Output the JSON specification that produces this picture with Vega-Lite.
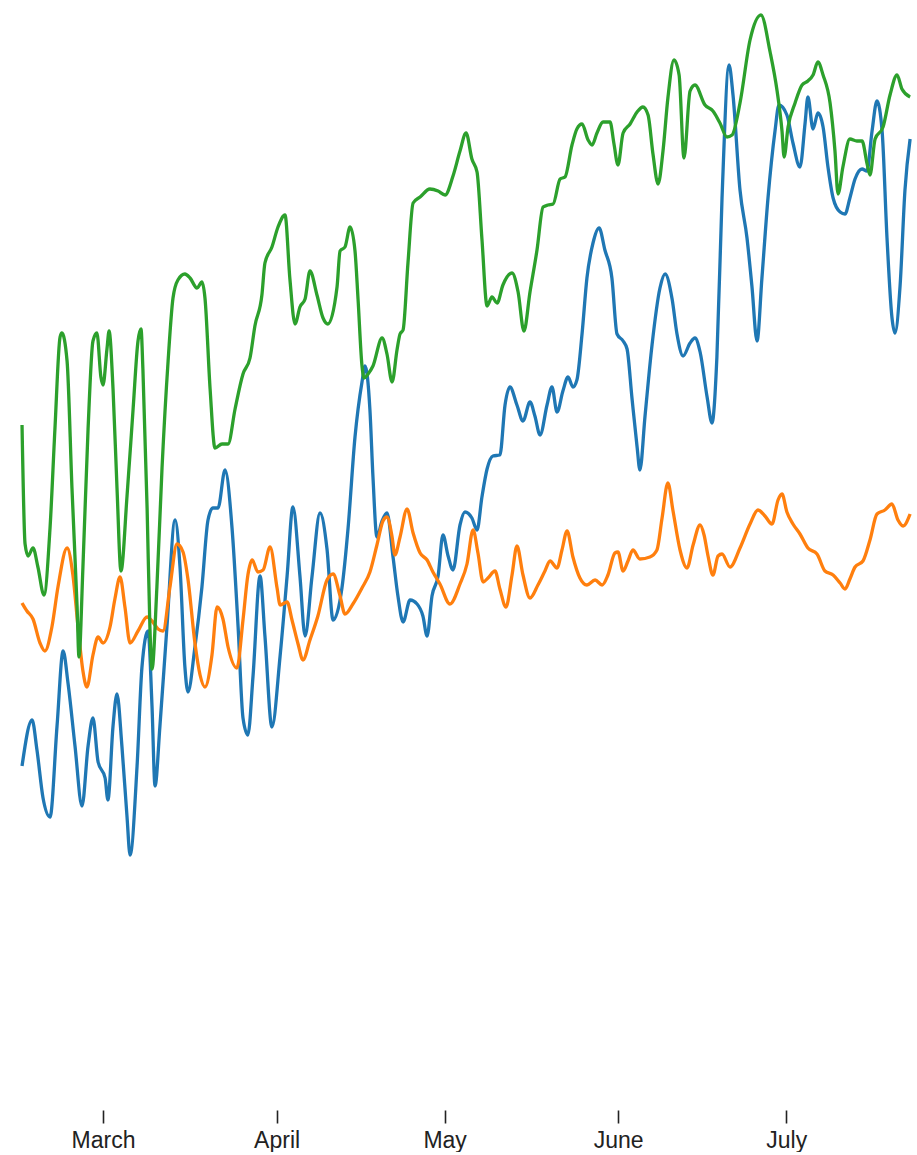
{
"$schema": "https://vega.github.io/schema/vega-lite/v6.json",
"width": 917,
"height": 1110,
"padding": 0,
"background": "white",
"config": {"view": {"stroke": null}},
"data": {"values": [
{"c":"New York","d":"2012-02-15T13:00","v":34.4},
{"c":"New York","d":"2012-02-17T08:00","v":39.0},
{"c":"New York","d":"2012-02-18T05:00","v":36.0},
{"c":"New York","d":"2012-02-19T07:00","v":31.2},
{"c":"New York","d":"2012-02-20T13:00","v":29.3},
{"c":"New York","d":"2012-02-21T19:00","v":38.4},
{"c":"New York","d":"2012-02-22T21:00","v":45.9},
{"c":"New York","d":"2012-02-23T18:00","v":42.7},
{"c":"New York","d":"2012-02-25T00:00","v":36.4},
{"c":"New York","d":"2012-02-26T06:00","v":30.4},
{"c":"New York","d":"2012-02-27T08:00","v":36.4},
{"c":"New York","d":"2012-02-28T05:00","v":39.2},
{"c":"New York","d":"2012-02-29T03:00","v":34.8},
{"c":"New York","d":"2012-03-01T09:00","v":33.2},
{"c":"New York","d":"2012-03-01T21:00","v":31.0},
{"c":"New York","d":"2012-03-02T19:00","v":38.4},
{"c":"New York","d":"2012-03-03T12:00","v":41.6},
{"c":"New York","d":"2012-03-04T09:00","v":36.4},
{"c":"New York","d":"2012-03-05T07:00","v":29.3},
{"c":"New York","d":"2012-03-05T20:00","v":25.5},
{"c":"New York","d":"2012-03-07T02:00","v":34.4},
{"c":"New York","d":"2012-03-07T23:00","v":44.3},
{"c":"New York","d":"2012-03-09T01:00","v":47.9},
{"c":"New York","d":"2012-03-09T18:00","v":40.4},
{"c":"New York","d":"2012-03-10T07:00","v":32.4},
{"c":"New York","d":"2012-03-11T04:00","v":38.4},
{"c":"New York","d":"2012-03-12T10:00","v":48.3},
{"c":"New York","d":"2012-03-13T21:00","v":59.0},
{"c":"New York","d":"2012-03-14T18:00","v":54.3},
{"c":"New York","d":"2012-03-15T15:00","v":44.3},
{"c":"New York","d":"2012-03-16T04:00","v":41.8},
{"c":"New York","d":"2012-03-17T10:00","v":46.3},
{"c":"New York","d":"2012-03-18T16:00","v":52.3},
{"c":"New York","d":"2012-03-19T18:00","v":59.0},
{"c":"New York","d":"2012-03-20T15:00","v":60.2},
{"c":"New York","d":"2012-03-21T13:00","v":60.2},
{"c":"New York","d":"2012-03-22T19:00","v":64.0},
{"c":"New York","d":"2012-03-24T01:00","v":58.2},
{"c":"New York","d":"2012-03-25T03:00","v":48.3},
{"c":"New York","d":"2012-03-26T00:00","v":39.2},
{"c":"New York","d":"2012-03-26T21:00","v":37.5},
{"c":"New York","d":"2012-03-27T19:00","v":43.4},
{"c":"New York","d":"2012-03-29T01:00","v":53.4},
{"c":"New York","d":"2012-03-29T22:00","v":47.4},
{"c":"New York","d":"2012-03-31T04:00","v":38.3},
{"c":"New York","d":"2012-04-01T15:00","v":45.4},
{"c":"New York","d":"2012-04-02T21:00","v":53.4},
{"c":"New York","d":"2012-04-03T22:00","v":60.3},
{"c":"New York","d":"2012-04-05T04:00","v":53.4},
{"c":"New York","d":"2012-04-06T02:00","v":47.4},
{"c":"New York","d":"2012-04-07T08:00","v":53.4},
{"c":"New York","d":"2012-04-08T18:00","v":59.7},
{"c":"New York","d":"2012-04-10T00:00","v":56.1},
{"c":"New York","d":"2012-04-11T02:00","v":49.0},
{"c":"New York","d":"2012-04-12T16:00","v":52.2},
{"c":"New York","d":"2012-04-13T18:00","v":58.1},
{"c":"New York","d":"2012-04-15T00:00","v":67.3},
{"c":"New York","d":"2012-04-16T06:00","v":72.8},
{"c":"New York","d":"2012-04-16T19:00","v":74.4},
{"c":"New York","d":"2012-04-17T16:00","v":70.0},
{"c":"New York","d":"2012-04-18T05:00","v":63.3},
{"c":"New York","d":"2012-04-18T22:00","v":57.3},
{"c":"New York","d":"2012-04-19T20:00","v":58.9},
{"c":"New York","d":"2012-04-20T17:00","v":59.7},
{"c":"New York","d":"2012-04-21T19:00","v":55.3},
{"c":"New York","d":"2012-04-22T16:00","v":51.4},
{"c":"New York","d":"2012-04-23T14:00","v":48.8},
{"c":"New York","d":"2012-04-24T20:00","v":51.0},
{"c":"New York","d":"2012-04-26T02:00","v":50.6},
{"c":"New York","d":"2012-04-27T03:00","v":49.4},
{"c":"New York","d":"2012-04-27T21:00","v":47.4},
{"c":"New York","d":"2012-04-28T18:00","v":51.4},
{"c":"New York","d":"2012-04-29T20:00","v":53.4},
{"c":"New York","d":"2012-04-30T17:00","v":57.5},
{"c":"New York","d":"2012-05-01T15:00","v":55.4},
{"c":"New York","d":"2012-05-02T12:00","v":54.0},
{"c":"New York","d":"2012-05-03T18:00","v":58.5},
{"c":"New York","d":"2012-05-04T15:00","v":59.8},
{"c":"New York","d":"2012-05-05T21:00","v":59.2},
{"c":"New York","d":"2012-05-06T19:00","v":58.0},
{"c":"New York","d":"2012-05-07T16:00","v":61.3},
{"c":"New York","d":"2012-05-08T14:00","v":64.1},
{"c":"New York","d":"2012-05-09T15:00","v":65.4},
{"c":"New York","d":"2012-05-10T21:00","v":65.5},
{"c":"New York","d":"2012-05-11T19:00","v":70.5},
{"c":"New York","d":"2012-05-12T16:00","v":72.3},
{"c":"New York","d":"2012-05-13T22:00","v":70.5},
{"c":"New York","d":"2012-05-15T00:00","v":68.9},
{"c":"New York","d":"2012-05-16T06:00","v":70.8},
{"c":"New York","d":"2012-05-17T03:00","v":69.4},
{"c":"New York","d":"2012-05-18T01:00","v":67.5},
{"c":"New York","d":"2012-05-19T07:00","v":70.5},
{"c":"New York","d":"2012-05-20T04:00","v":72.3},
{"c":"New York","d":"2012-05-21T02:00","v":69.8},
{"c":"New York","d":"2012-05-22T03:00","v":71.9},
{"c":"New York","d":"2012-05-23T01:00","v":73.3},
{"c":"New York","d":"2012-05-23T22:00","v":72.3},
{"c":"New York","d":"2012-05-24T15:00","v":73.0},
{"c":"New York","d":"2012-05-25T13:00","v":77.6},
{"c":"New York","d":"2012-05-26T10:00","v":83.2},
{"c":"New York","d":"2012-05-27T12:00","v":86.7},
{"c":"New York","d":"2012-05-28T14:00","v":88.2},
{"c":"New York","d":"2012-05-29T15:00","v":86.0},
{"c":"New York","d":"2012-05-30T21:00","v":83.2},
{"c":"New York","d":"2012-05-31T19:00","v":77.6},
{"c":"New York","d":"2012-06-01T21:00","v":76.9},
{"c":"New York","d":"2012-06-02T14:00","v":76.1},
{"c":"New York","d":"2012-06-03T11:00","v":71.2},
{"c":"New York","d":"2012-06-04T09:00","v":66.3},
{"c":"New York","d":"2012-06-04T21:00","v":64.0},
{"c":"New York","d":"2012-06-05T19:00","v":69.4},
{"c":"New York","d":"2012-06-07T01:00","v":76.5},
{"c":"New York","d":"2012-06-08T11:00","v":82.2},
{"c":"New York","d":"2012-06-09T09:00","v":83.6},
{"c":"New York","d":"2012-06-10T15:00","v":81.1},
{"c":"New York","d":"2012-06-11T12:00","v":77.6},
{"c":"New York","d":"2012-06-12T14:00","v":75.4},
{"c":"New York","d":"2012-06-13T20:00","v":76.7},
{"c":"New York","d":"2012-06-14T17:00","v":77.2},
{"c":"New York","d":"2012-06-15T15:00","v":75.8},
{"c":"New York","d":"2012-06-16T21:00","v":71.3},
{"c":"New York","d":"2012-06-17T18:00","v":68.7},
{"c":"New York","d":"2012-06-18T15:00","v":75.3},
{"c":"New York","d":"2012-06-19T13:00","v":91.2},
{"c":"New York","d":"2012-06-20T19:00","v":104.5},
{"c":"New York","d":"2012-06-21T12:00","v":101.5},
{"c":"New York","d":"2012-06-22T18:00","v":92.0},
{"c":"New York","d":"2012-06-24T00:00","v":87.2},
{"c":"New York","d":"2012-06-24T21:00","v":82.4},
{"c":"New York","d":"2012-06-25T19:00","v":76.9},
{"c":"New York","d":"2012-06-26T16:00","v":83.2},
{"c":"New York","d":"2012-06-27T18:00","v":91.2},
{"c":"New York","d":"2012-06-29T00:00","v":97.9},
{"c":"New York","d":"2012-06-29T17:00","v":100.5},
{"c":"New York","d":"2012-07-01T03:00","v":99.5},
{"c":"New York","d":"2012-07-02T05:00","v":96.7},
{"c":"New York","d":"2012-07-03T11:00","v":94.3},
{"c":"New York","d":"2012-07-04T09:00","v":98.7},
{"c":"New York","d":"2012-07-04T21:00","v":101.3},
{"c":"New York","d":"2012-07-05T19:00","v":98.1},
{"c":"New York","d":"2012-07-06T16:00","v":99.7},
{"c":"New York","d":"2012-07-07T14:00","v":98.3},
{"c":"New York","d":"2012-07-08T11:00","v":94.3},
{"c":"New York","d":"2012-07-09T09:00","v":91.2},
{"c":"New York","d":"2012-07-10T15:00","v":89.8},
{"c":"New York","d":"2012-07-11T12:00","v":89.6},
{"c":"New York","d":"2012-07-12T09:00","v":91.2},
{"c":"New York","d":"2012-07-13T07:00","v":93.1},
{"c":"New York","d":"2012-07-14T13:00","v":94.1},
{"c":"New York","d":"2012-07-15T10:00","v":93.9},
{"c":"New York","d":"2012-07-16T08:00","v":97.9},
{"c":"New York","d":"2012-07-17T05:00","v":100.9},
{"c":"New York","d":"2012-07-18T03:00","v":97.9},
{"c":"New York","d":"2012-07-19T00:00","v":87.2},
{"c":"New York","d":"2012-07-19T21:00","v":79.3},
{"c":"New York","d":"2012-07-20T10:00","v":77.7},
{"c":"New York","d":"2012-07-21T08:00","v":82.4},
{"c":"New York","d":"2012-07-22T05:00","v":92.0},
{"c":"New York","d":"2012-07-23T03:00","v":97.1},
{"c":"San Francisco","d":"2012-02-15T13:00","v":50.7},
{"c":"San Francisco","d":"2012-02-16T10:00","v":49.9},
{"c":"San Francisco","d":"2012-02-17T12:00","v":49.1},
{"c":"San Francisco","d":"2012-02-18T18:00","v":46.7},
{"c":"San Francisco","d":"2012-02-19T15:00","v":45.9},
{"c":"San Francisco","d":"2012-02-20T21:00","v":48.3},
{"c":"San Francisco","d":"2012-02-21T23:00","v":52.3},
{"c":"San Francisco","d":"2012-02-23T14:00","v":56.2},
{"c":"San Francisco","d":"2012-02-24T15:00","v":53.5},
{"c":"San Francisco","d":"2012-02-25T13:00","v":48.3},
{"c":"San Francisco","d":"2012-02-26T10:00","v":43.9},
{"c":"San Francisco","d":"2012-02-27T03:00","v":42.3},
{"c":"San Francisco","d":"2012-02-28T05:00","v":45.5},
{"c":"San Francisco","d":"2012-02-29T03:00","v":47.3},
{"c":"San Francisco","d":"2012-03-01T00:00","v":46.7},
{"c":"San Francisco","d":"2012-03-02T06:00","v":48.3},
{"c":"San Francisco","d":"2012-03-03T03:00","v":51.1},
{"c":"San Francisco","d":"2012-03-04T01:00","v":53.3},
{"c":"San Francisco","d":"2012-03-04T22:00","v":50.3},
{"c":"San Francisco","d":"2012-03-05T20:00","v":46.7},
{"c":"San Francisco","d":"2012-03-07T06:00","v":47.9},
{"c":"San Francisco","d":"2012-03-08T21:00","v":49.3},
{"c":"San Francisco","d":"2012-03-09T18:00","v":48.9},
{"c":"San Francisco","d":"2012-03-10T20:00","v":48.1},
{"c":"San Francisco","d":"2012-03-11T17:00","v":47.9},
{"c":"San Francisco","d":"2012-03-12T23:00","v":52.3},
{"c":"San Francisco","d":"2012-03-14T05:00","v":56.6},
{"c":"San Francisco","d":"2012-03-15T07:00","v":55.8},
{"c":"San Francisco","d":"2012-03-16T04:00","v":53.1},
{"c":"San Francisco","d":"2012-03-17T10:00","v":46.7},
{"c":"San Francisco","d":"2012-03-18T08:00","v":43.5},
{"c":"San Francisco","d":"2012-03-19T05:00","v":42.3},
{"c":"San Francisco","d":"2012-03-20T11:00","v":45.5},
{"c":"San Francisco","d":"2012-03-21T09:00","v":50.3},
{"c":"San Francisco","d":"2012-03-22T10:00","v":49.1},
{"c":"San Francisco","d":"2012-03-23T08:00","v":46.3},
{"c":"San Francisco","d":"2012-03-24T22:00","v":44.2},
{"c":"San Francisco","d":"2012-03-26T00:00","v":49.0},
{"c":"San Francisco","d":"2012-03-26T21:00","v":53.5},
{"c":"San Francisco","d":"2012-03-27T15:00","v":55.0},
{"c":"San Francisco","d":"2012-03-28T16:00","v":53.8},
{"c":"San Francisco","d":"2012-03-29T14:00","v":54.0},
{"c":"San Francisco","d":"2012-03-30T20:00","v":56.3},
{"c":"San Francisco","d":"2012-04-01T02:00","v":52.2},
{"c":"San Francisco","d":"2012-04-01T15:00","v":50.5},
{"c":"San Francisco","d":"2012-04-02T21:00","v":50.8},
{"c":"San Francisco","d":"2012-04-03T18:00","v":49.0},
{"c":"San Francisco","d":"2012-04-04T20:00","v":46.6},
{"c":"San Francisco","d":"2012-04-05T17:00","v":45.0},
{"c":"San Francisco","d":"2012-04-06T23:00","v":47.0},
{"c":"San Francisco","d":"2012-04-08T09:00","v":49.4},
{"c":"San Francisco","d":"2012-04-10T00:00","v":53.0},
{"c":"San Francisco","d":"2012-04-11T02:00","v":53.6},
{"c":"San Francisco","d":"2012-04-12T08:00","v":51.4},
{"c":"San Francisco","d":"2012-04-13T05:00","v":49.6},
{"c":"San Francisco","d":"2012-04-14T15:00","v":50.6},
{"c":"San Francisco","d":"2012-04-16T06:00","v":52.2},
{"c":"San Francisco","d":"2012-04-17T16:00","v":53.8},
{"c":"San Francisco","d":"2012-04-18T22:00","v":56.5},
{"c":"San Francisco","d":"2012-04-20T00:00","v":58.9},
{"c":"San Francisco","d":"2012-04-20T17:00","v":59.3},
{"c":"San Francisco","d":"2012-04-21T15:00","v":57.3},
{"c":"San Francisco","d":"2012-04-22T03:00","v":55.5},
{"c":"San Francisco","d":"2012-04-23T01:00","v":57.3},
{"c":"San Francisco","d":"2012-04-24T07:00","v":60.1},
{"c":"San Francisco","d":"2012-04-25T09:00","v":57.7},
{"c":"San Francisco","d":"2012-04-26T15:00","v":55.7},
{"c":"San Francisco","d":"2012-04-27T21:00","v":55.0},
{"c":"San Francisco","d":"2012-04-28T22:00","v":53.8},
{"c":"San Francisco","d":"2012-04-30T04:00","v":52.6},
{"c":"San Francisco","d":"2012-05-01T23:00","v":50.6},
{"c":"San Francisco","d":"2012-05-03T18:00","v":52.6},
{"c":"San Francisco","d":"2012-05-05T00:00","v":54.6},
{"c":"San Francisco","d":"2012-05-06T02:00","v":58.0},
{"c":"San Francisco","d":"2012-05-06T23:00","v":55.7},
{"c":"San Francisco","d":"2012-05-07T21:00","v":52.8},
{"c":"San Francisco","d":"2012-05-08T18:00","v":53.2},
{"c":"San Francisco","d":"2012-05-10T00:00","v":53.9},
{"c":"San Francisco","d":"2012-05-10T21:00","v":52.1},
{"c":"San Francisco","d":"2012-05-11T23:00","v":50.3},
{"c":"San Francisco","d":"2012-05-13T01:00","v":53.5},
{"c":"San Francisco","d":"2012-05-13T22:00","v":56.4},
{"c":"San Francisco","d":"2012-05-15T00:00","v":53.5},
{"c":"San Francisco","d":"2012-05-16T06:00","v":51.2},
{"c":"San Francisco","d":"2012-05-17T16:00","v":52.5},
{"c":"San Francisco","d":"2012-05-18T22:00","v":53.9},
{"c":"San Francisco","d":"2012-05-19T20:00","v":54.9},
{"c":"San Francisco","d":"2012-05-21T02:00","v":54.2},
{"c":"San Francisco","d":"2012-05-21T23:00","v":56.0},
{"c":"San Francisco","d":"2012-05-22T21:00","v":57.9},
{"c":"San Francisco","d":"2012-05-23T22:00","v":55.3},
{"c":"San Francisco","d":"2012-05-25T04:00","v":53.2},
{"c":"San Francisco","d":"2012-05-26T10:00","v":52.5},
{"c":"San Francisco","d":"2012-05-27T21:00","v":53.0},
{"c":"San Francisco","d":"2012-05-29T03:00","v":52.5},
{"c":"San Francisco","d":"2012-05-30T04:00","v":53.5},
{"c":"San Francisco","d":"2012-05-31T10:00","v":55.7},
{"c":"San Francisco","d":"2012-05-31T23:00","v":55.8},
{"c":"San Francisco","d":"2012-06-01T21:00","v":53.9},
{"c":"San Francisco","d":"2012-06-02T18:00","v":54.9},
{"c":"San Francisco","d":"2012-06-03T15:00","v":56.0},
{"c":"San Francisco","d":"2012-06-04T21:00","v":55.1},
{"c":"San Francisco","d":"2012-06-06T16:00","v":55.3},
{"c":"San Francisco","d":"2012-06-07T22:00","v":56.0},
{"c":"San Francisco","d":"2012-06-08T20:00","v":59.2},
{"c":"San Francisco","d":"2012-06-09T21:00","v":62.7},
{"c":"San Francisco","d":"2012-06-10T19:00","v":59.9},
{"c":"San Francisco","d":"2012-06-12T01:00","v":56.0},
{"c":"San Francisco","d":"2012-06-13T07:00","v":54.2},
{"c":"San Francisco","d":"2012-06-14T09:00","v":56.5},
{"c":"San Francisco","d":"2012-06-15T15:00","v":58.5},
{"c":"San Francisco","d":"2012-06-16T08:00","v":57.5},
{"c":"San Francisco","d":"2012-06-17T01:00","v":55.4},
{"c":"San Francisco","d":"2012-06-17T22:00","v":53.5},
{"c":"San Francisco","d":"2012-06-18T20:00","v":55.4},
{"c":"San Francisco","d":"2012-06-19T13:00","v":55.6},
{"c":"San Francisco","d":"2012-06-20T23:00","v":54.3},
{"c":"San Francisco","d":"2012-06-22T18:00","v":56.2},
{"c":"San Francisco","d":"2012-06-24T13:00","v":58.6},
{"c":"San Francisco","d":"2012-06-25T23:00","v":60.0},
{"c":"San Francisco","d":"2012-06-27T05:00","v":59.4},
{"c":"San Francisco","d":"2012-06-28T11:00","v":58.6},
{"c":"San Francisco","d":"2012-06-29T13:00","v":61.0},
{"c":"San Francisco","d":"2012-06-30T06:00","v":61.6},
{"c":"San Francisco","d":"2012-07-01T03:00","v":59.8},
{"c":"San Francisco","d":"2012-07-02T05:00","v":58.6},
{"c":"San Francisco","d":"2012-07-03T11:00","v":57.6},
{"c":"San Francisco","d":"2012-07-04T21:00","v":56.2},
{"c":"San Francisco","d":"2012-07-06T12:00","v":55.6},
{"c":"San Francisco","d":"2012-07-07T22:00","v":53.9},
{"c":"San Francisco","d":"2012-07-09T09:00","v":53.5},
{"c":"San Francisco","d":"2012-07-10T15:00","v":52.7},
{"c":"San Francisco","d":"2012-07-11T12:00","v":52.1},
{"c":"San Francisco","d":"2012-07-12T09:00","v":53.1},
{"c":"San Francisco","d":"2012-07-13T07:00","v":54.3},
{"c":"San Francisco","d":"2012-07-14T17:00","v":54.9},
{"c":"San Francisco","d":"2012-07-15T23:00","v":57.0},
{"c":"San Francisco","d":"2012-07-17T05:00","v":59.6},
{"c":"San Francisco","d":"2012-07-18T15:00","v":60.0},
{"c":"San Francisco","d":"2012-07-19T21:00","v":60.6},
{"c":"San Francisco","d":"2012-07-20T23:00","v":59.0},
{"c":"San Francisco","d":"2012-07-21T21:00","v":58.4},
{"c":"San Francisco","d":"2012-07-23T03:00","v":59.6},
{"c":"Austin","d":"2012-02-15T13:00","v":68.5},
{"c":"Austin","d":"2012-02-16T02:00","v":56.6},
{"c":"Austin","d":"2012-02-16T15:00","v":55.4},
{"c":"Austin","d":"2012-02-17T12:00","v":56.2},
{"c":"Austin","d":"2012-02-18T09:00","v":54.3},
{"c":"Austin","d":"2012-02-19T11:00","v":51.5},
{"c":"Austin","d":"2012-02-20T13:00","v":58.2},
{"c":"Austin","d":"2012-02-21T10:00","v":68.1},
{"c":"Austin","d":"2012-02-22T08:00","v":77.3},
{"c":"Austin","d":"2012-02-22T16:00","v":77.7},
{"c":"Austin","d":"2012-02-23T14:00","v":74.9},
{"c":"Austin","d":"2012-02-24T11:00","v":62.2},
{"c":"Austin","d":"2012-02-25T09:00","v":50.3},
{"c":"Austin","d":"2012-02-25T17:00","v":45.3},
{"c":"Austin","d":"2012-02-26T10:00","v":54.3},
{"c":"Austin","d":"2012-02-27T08:00","v":68.1},
{"c":"Austin","d":"2012-02-28T05:00","v":76.9},
{"c":"Austin","d":"2012-02-28T22:00","v":77.7},
{"c":"Austin","d":"2012-02-29T15:00","v":73.3},
{"c":"Austin","d":"2012-03-01T00:00","v":72.5},
{"c":"Austin","d":"2012-03-01T17:00","v":76.1},
{"c":"Austin","d":"2012-03-02T02:00","v":77.9},
{"c":"Austin","d":"2012-03-02T19:00","v":72.1},
{"c":"Austin","d":"2012-03-03T12:00","v":62.2},
{"c":"Austin","d":"2012-03-04T05:00","v":53.9},
{"c":"Austin","d":"2012-03-05T07:00","v":61.4},
{"c":"Austin","d":"2012-03-06T09:00","v":70.1},
{"c":"Austin","d":"2012-03-07T06:00","v":76.9},
{"c":"Austin","d":"2012-03-07T19:00","v":78.1},
{"c":"Austin","d":"2012-03-08T03:00","v":74.1},
{"c":"Austin","d":"2012-03-08T21:00","v":60.2},
{"c":"Austin","d":"2012-03-09T09:00","v":48.3},
{"c":"Austin","d":"2012-03-09T18:00","v":44.1},
{"c":"Austin","d":"2012-03-10T15:00","v":52.3},
{"c":"Austin","d":"2012-03-11T13:00","v":64.2},
{"c":"Austin","d":"2012-03-12T15:00","v":74.9},
{"c":"Austin","d":"2012-03-13T12:00","v":81.2},
{"c":"Austin","d":"2012-03-14T09:00","v":83.0},
{"c":"Austin","d":"2012-03-15T15:00","v":83.6},
{"c":"Austin","d":"2012-03-16T13:00","v":83.2},
{"c":"Austin","d":"2012-03-17T19:00","v":82.2},
{"c":"Austin","d":"2012-03-18T16:00","v":82.8},
{"c":"Austin","d":"2012-03-19T05:00","v":81.2},
{"c":"Austin","d":"2012-03-20T03:00","v":72.1},
{"c":"Austin","d":"2012-03-21T00:00","v":66.2},
{"c":"Austin","d":"2012-03-22T06:00","v":66.6},
{"c":"Austin","d":"2012-03-23T08:00","v":66.6},
{"c":"Austin","d":"2012-03-24T14:00","v":70.1},
{"c":"Austin","d":"2012-03-26T00:00","v":73.6},
{"c":"Austin","d":"2012-03-27T06:00","v":75.2},
{"c":"Austin","d":"2012-03-28T03:00","v":78.4},
{"c":"Austin","d":"2012-03-29T09:00","v":81.5},
{"c":"Austin","d":"2012-03-29T22:00","v":84.7},
{"c":"Austin","d":"2012-03-31T04:00","v":86.3},
{"c":"Austin","d":"2012-04-01T06:00","v":88.3},
{"c":"Austin","d":"2012-04-02T12:00","v":89.5},
{"c":"Austin","d":"2012-04-03T09:00","v":83.1},
{"c":"Austin","d":"2012-04-04T07:00","v":78.6},
{"c":"Austin","d":"2012-04-05T04:00","v":80.3},
{"c":"Austin","d":"2012-04-06T02:00","v":81.1},
{"c":"Austin","d":"2012-04-06T23:00","v":83.9},
{"c":"Austin","d":"2012-04-08T05:00","v":81.5},
{"c":"Austin","d":"2012-04-09T07:00","v":79.2},
{"c":"Austin","d":"2012-04-10T04:00","v":78.6},
{"c":"Austin","d":"2012-04-11T19:00","v":82.3},
{"c":"Austin","d":"2012-04-12T08:00","v":85.9},
{"c":"Austin","d":"2012-04-13T05:00","v":86.3},
{"c":"Austin","d":"2012-04-14T03:00","v":88.3},
{"c":"Austin","d":"2012-04-15T00:00","v":85.9},
{"c":"Austin","d":"2012-04-15T13:00","v":81.1},
{"c":"Austin","d":"2012-04-16T06:00","v":74.4},
{"c":"Austin","d":"2012-04-16T15:00","v":73.2},
{"c":"Austin","d":"2012-04-17T08:00","v":73.6},
{"c":"Austin","d":"2012-04-18T05:00","v":74.4},
{"c":"Austin","d":"2012-04-19T20:00","v":77.2},
{"c":"Austin","d":"2012-04-20T17:00","v":75.6},
{"c":"Austin","d":"2012-04-21T15:00","v":72.8},
{"c":"Austin","d":"2012-04-22T12:00","v":76.0},
{"c":"Austin","d":"2012-04-23T01:00","v":77.6},
{"c":"Austin","d":"2012-04-23T14:00","v":78.0},
{"c":"Austin","d":"2012-04-24T11:00","v":84.7},
{"c":"Austin","d":"2012-04-25T09:00","v":90.7},
{"c":"Austin","d":"2012-04-26T15:00","v":91.3},
{"c":"Austin","d":"2012-04-28T09:00","v":92.1},
{"c":"Austin","d":"2012-04-29T20:00","v":91.9},
{"c":"Austin","d":"2012-05-01T02:00","v":91.5},
{"c":"Austin","d":"2012-05-02T12:00","v":93.4},
{"c":"Austin","d":"2012-05-03T18:00","v":95.9},
{"c":"Austin","d":"2012-05-04T20:00","v":97.7},
{"c":"Austin","d":"2012-05-05T21:00","v":95.1},
{"c":"Austin","d":"2012-05-06T19:00","v":93.8},
{"c":"Austin","d":"2012-05-07T16:00","v":87.1},
{"c":"Austin","d":"2012-05-08T14:00","v":80.4},
{"c":"Austin","d":"2012-05-09T11:00","v":81.3},
{"c":"Austin","d":"2012-05-10T09:00","v":80.7},
{"c":"Austin","d":"2012-05-11T10:00","v":82.5},
{"c":"Austin","d":"2012-05-13T01:00","v":83.7},
{"c":"Austin","d":"2012-05-14T03:00","v":81.8},
{"c":"Austin","d":"2012-05-15T04:00","v":77.9},
{"c":"Austin","d":"2012-05-16T06:00","v":81.8},
{"c":"Austin","d":"2012-05-17T12:00","v":86.0},
{"c":"Austin","d":"2012-05-18T14:00","v":90.3},
{"c":"Austin","d":"2012-05-19T11:00","v":90.5},
{"c":"Austin","d":"2012-05-20T09:00","v":90.6},
{"c":"Austin","d":"2012-05-21T15:00","v":93.1},
{"c":"Austin","d":"2012-05-22T12:00","v":93.3},
{"c":"Austin","d":"2012-05-23T18:00","v":96.5},
{"c":"Austin","d":"2012-05-24T15:00","v":98.1},
{"c":"Austin","d":"2012-05-25T13:00","v":98.6},
{"c":"Austin","d":"2012-05-26T15:00","v":97.0},
{"c":"Austin","d":"2012-05-27T08:00","v":96.5},
{"c":"Austin","d":"2012-05-28T05:00","v":97.7},
{"c":"Austin","d":"2012-05-29T07:00","v":98.8},
{"c":"Austin","d":"2012-05-30T13:00","v":98.8},
{"c":"Austin","d":"2012-05-31T06:00","v":96.6},
{"c":"Austin","d":"2012-05-31T23:00","v":94.5},
{"c":"Austin","d":"2012-06-01T21:00","v":97.7},
{"c":"Austin","d":"2012-06-03T03:00","v":98.6},
{"c":"Austin","d":"2012-06-04T09:00","v":99.8},
{"c":"Austin","d":"2012-06-05T10:00","v":100.3},
{"c":"Austin","d":"2012-06-06T08:00","v":99.5},
{"c":"Austin","d":"2012-06-07T05:00","v":95.6},
{"c":"Austin","d":"2012-06-08T03:00","v":92.6},
{"c":"Austin","d":"2012-06-09T00:00","v":95.9},
{"c":"Austin","d":"2012-06-09T21:00","v":101.2},
{"c":"Austin","d":"2012-06-10T23:00","v":105.0},
{"c":"Austin","d":"2012-06-11T21:00","v":103.5},
{"c":"Austin","d":"2012-06-12T18:00","v":95.2},
{"c":"Austin","d":"2012-06-13T20:00","v":101.9},
{"c":"Austin","d":"2012-06-14T17:00","v":102.5},
{"c":"Austin","d":"2012-06-16T12:00","v":100.5},
{"c":"Austin","d":"2012-06-17T22:00","v":99.9},
{"c":"Austin","d":"2012-06-19T04:00","v":98.7},
{"c":"Austin","d":"2012-06-20T10:00","v":97.3},
{"c":"Austin","d":"2012-06-21T08:00","v":97.5},
{"c":"Austin","d":"2012-06-22T18:00","v":100.7},
{"c":"Austin","d":"2012-06-24T13:00","v":107.0},
{"c":"Austin","d":"2012-06-26T12:00","v":109.5},
{"c":"Austin","d":"2012-06-28T03:00","v":105.8},
{"c":"Austin","d":"2012-06-29T09:00","v":101.9},
{"c":"Austin","d":"2012-06-30T06:00","v":97.9},
{"c":"Austin","d":"2012-06-30T15:00","v":95.3},
{"c":"Austin","d":"2012-07-01T08:00","v":98.3},
{"c":"Austin","d":"2012-07-02T14:00","v":100.7},
{"c":"Austin","d":"2012-07-03T20:00","v":102.5},
{"c":"Austin","d":"2012-07-04T21:00","v":102.9},
{"c":"Austin","d":"2012-07-05T19:00","v":103.5},
{"c":"Austin","d":"2012-07-06T16:00","v":104.8},
{"c":"Austin","d":"2012-07-07T14:00","v":103.5},
{"c":"Austin","d":"2012-07-08T20:00","v":100.7},
{"c":"Austin","d":"2012-07-09T17:00","v":95.9},
{"c":"Austin","d":"2012-07-10T06:00","v":91.6},
{"c":"Austin","d":"2012-07-11T03:00","v":94.3},
{"c":"Austin","d":"2012-07-12T09:00","v":97.1},
{"c":"Austin","d":"2012-07-13T15:00","v":96.9},
{"c":"Austin","d":"2012-07-14T13:00","v":96.9},
{"c":"Austin","d":"2012-07-15T10:00","v":94.7},
{"c":"Austin","d":"2012-07-15T23:00","v":93.5},
{"c":"Austin","d":"2012-07-16T21:00","v":97.1},
{"c":"Austin","d":"2012-07-18T07:00","v":98.3},
{"c":"Austin","d":"2012-07-19T13:00","v":101.5},
{"c":"Austin","d":"2012-07-20T19:00","v":103.5},
{"c":"Austin","d":"2012-07-21T16:00","v":102.1},
{"c":"Austin","d":"2012-07-23T03:00","v":101.3}
]},
"mark": {"type": "line", "interpolate": "monotone", "strokeWidth": 3.3, "clip": true},
"encoding": {
  "x": {"field": "d", "type": "temporal",
        "scale": {"domain": [{"year": 2012, "month": 2, "date": 11, "hours": 14, "minutes": 34}, {"year": 2012, "month": 7, "date": 24, "hours": 8, "minutes": 34}]},
        "axis": {"title": null, "format": "%B", "tickCount": {"interval": "month", "step": 1}, "domain": false, "grid": false, "tickSize": 13, "tickWidth": 1.6, "tickColor": "#222", "labelFontSize": 23, "labelFont": "Liberation Sans", "labelColor": "#222", "labelPadding": 6, "labelFlush": false, "labelOverlap": false}},
  "y": {"field": "v", "type": "quantitative", "scale": {"domain": [0, 111], "nice": false, "zero": false}, "axis": null},
  "color": {"field": "c", "type": "nominal", "scale": {"domain": ["New York", "San Francisco", "Austin"], "range": ["#1f77b4", "#ff7f0e", "#2ca02c"]}, "legend": null}
}
}
